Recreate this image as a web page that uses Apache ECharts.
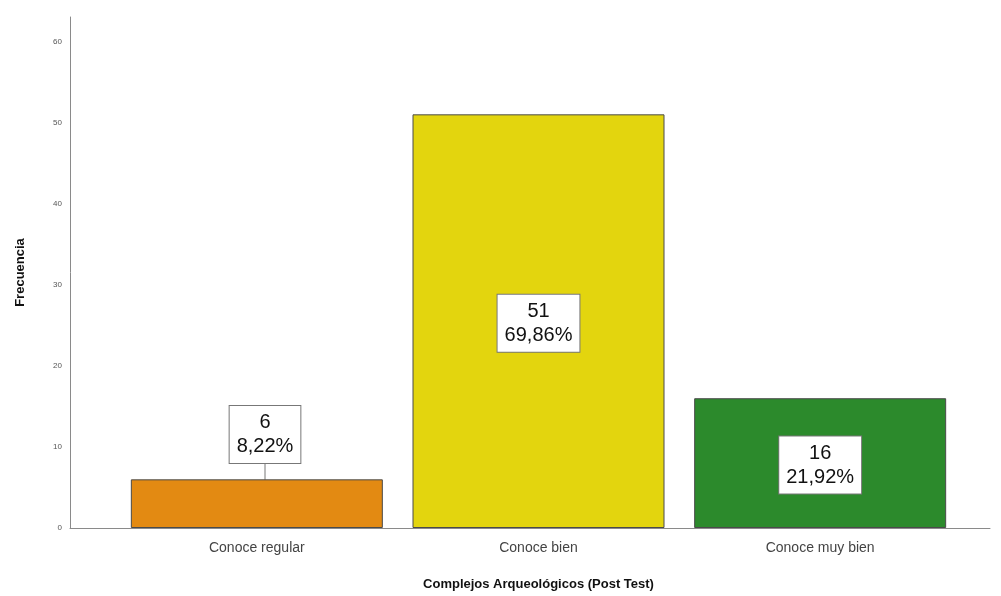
<!DOCTYPE html>
<html><head><meta charset="utf-8">
<script src="https://cdn.jsdelivr.net/npm/echarts@6/dist/echarts.min.js"></script>
<style>html,body{margin:0;padding:0;background:#fff}#c{width:1001px;height:596px}</style>
</head><body><div id="c"></div>
<script>
const categories = ["Conoce regular", "Conoce bien", "Conoce muy bien"];
const frequencies = [6, 51, 16];
const percentages = ["8,22%", "69,86%", "21,92%"];
const barColors = ["#e38a12", "#e3d50e", "#2c8a2c"];
const yTicks = [0, 10, 20, 30, 40, 50, 60];

const chart = echarts.init(document.getElementById('c'), null, {renderer: 'canvas'});
const font = '"Liberation Sans", Arial, sans-serif';
chart.setOption({
  animation: false,
  backgroundColor: '#fff',
  grid: [
    {left: 70, right: 11, top: 17, bottom: 68},
    {left: 116, right: 40, top: 17, bottom: 68}
  ],
  xAxis: [
    {gridIndex: 0, type: 'value', min: 0, max: 1, axisLine: {show: true, onZero: false, lineStyle: {color: '#8a8a8a', width: 1}},
     axisTick: {show: false}, axisLabel: {show: false}, splitLine: {show: false}},
    {gridIndex: 1, type: 'category', data: categories, axisLine: {show: false}, axisTick: {show: false},
     axisLabel: {color: '#444', fontSize: 14, fontFamily: font, margin: 13},
     name: 'Complejos Arqueológicos (Post Test)', nameLocation: 'middle', nameGap: 50,
     nameTextStyle: {color: '#111', fontSize: 13, fontWeight: 'bold', fontFamily: font}}
  ],
  yAxis: [
    {gridIndex: 0, type: 'value', min: 0, max: 63, interval: 10,
     axisLine: {show: true, lineStyle: {color: '#8a8a8a', width: 1}}, axisTick: {show: false},
     splitLine: {show: false},
     axisLabel: {color: '#555', fontSize: 8, fontFamily: font, margin: 8,
       formatter: v => yTicks.includes(v) ? String(v) : ''},
     name: 'Frecuencia', nameLocation: 'middle', nameGap: 43, nameRotate: 90,
     nameTextStyle: {color: '#111', fontSize: 13, fontWeight: 'bold', fontFamily: font}},
    {gridIndex: 1, type: 'value', min: 0, max: 63, show: false}
  ],
  series: [{
    type: 'bar', xAxisIndex: 1, yAxisIndex: 1, barWidth: 252,
    data: frequencies.map((v, i) => ({value: v, itemStyle: {color: barColors[i]}})),
    itemStyle: {borderColor: '#4a4a4a', borderWidth: 1},
    label: {
      show: true,
      position: 'inside',
      align: 'center',
      formatter: p => frequencies[p.dataIndex] + '\n' + percentages[p.dataIndex],
      color: '#111', fontSize: 20, fontFamily: font, lineHeight: 24,
      backgroundColor: '#fff', borderColor: '#777', borderWidth: 1, padding: [5, 7, 4, 7]
    },
    labelLayout: p => p.dataIndex === 0 ? {y: 528 - 6 * 8.1 - 16 - 29, x: 265, align: 'center', verticalAlign: 'middle'} : {x: p.rect.x + p.rect.width / 2, y: p.rect.y + p.rect.height / 2 + 2, align: 'center', verticalAlign: 'middle'},
    labelLine: {show: true, lineStyle: {color: '#777', width: 1}}
  }]
});
</script></body></html>
